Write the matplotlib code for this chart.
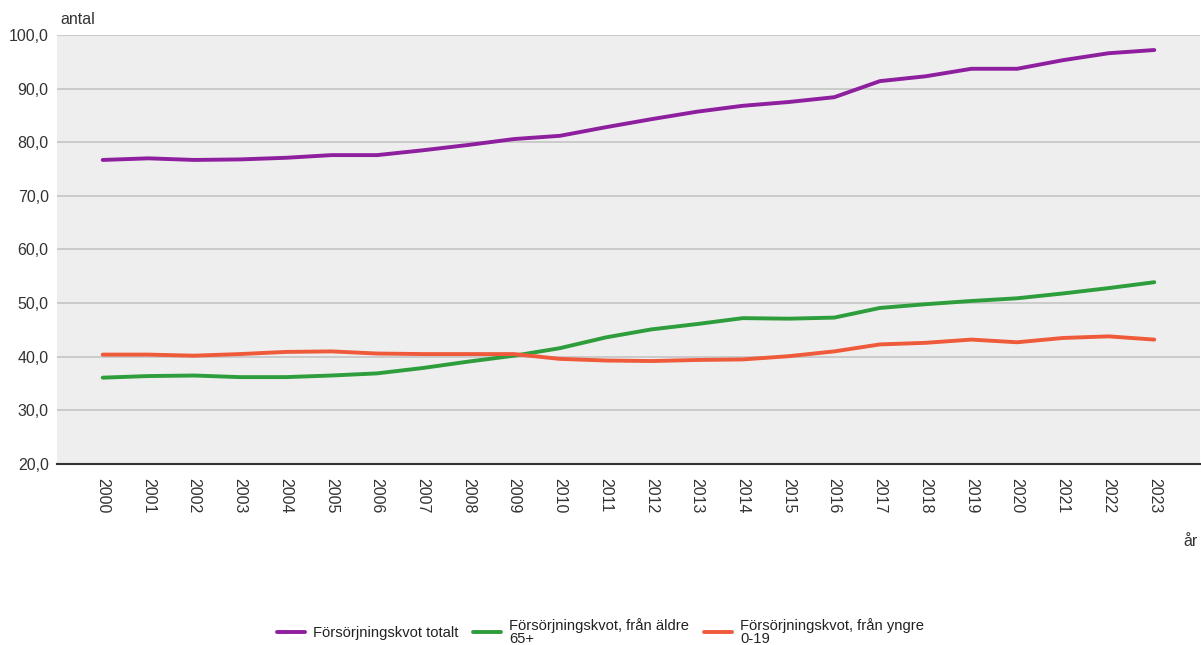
import matplotlib
matplotlib.use("Agg")
import matplotlib.pyplot as plt

years = list(range(2000, 2024))
totalt = [76.7, 77.0, 76.7, 76.8, 77.1, 77.6, 77.6, 78.5, 79.5, 80.6, 81.2, 82.8,
          84.3, 85.7, 86.8, 87.5, 88.4, 91.4, 92.3, 93.7, 93.7, 95.3, 96.6, 97.2]
aldre = [36.1, 36.4, 36.5, 36.2, 36.2, 36.5, 36.9, 37.9, 39.1, 40.2, 41.6, 43.6,
         45.1, 46.1, 47.2, 47.1, 47.3, 49.1, 49.8, 50.4, 50.9, 51.8, 52.8, 53.9]
yngre = [40.4, 40.4, 40.2, 40.5, 40.9, 41.0, 40.6, 40.5, 40.5, 40.5, 39.6, 39.3,
         39.2, 39.4, 39.5, 40.1, 41.0, 42.3, 42.6, 43.2, 42.7, 43.5, 43.8, 43.2]
labels = ["Försörjningskvot totalt",
          "Försörjningskvot, från äldre\n65+",
          "Försörjningskvot, från yngre\n0-19"]
yticks = [20, 30, 40, 50, 60, 70, 80, 90, 100]

plt.rcParams['font.family'] = ['Liberation Sans', 'DejaVu Sans']

fig = plt.figure(figsize=(12.01, 6.45), dpi=100)
ax = fig.add_axes([57/1201, 1 - 464/645, (1200-57)/1201, (464-35)/645])
ax.set_facecolor('#eeeeee')

ax.plot(years, totalt, color='#8e1f9e', lw=2.8, label=labels[0], solid_capstyle='round')
ax.plot(years, aldre, color='#2e9d3c', lw=2.8, label=labels[1], solid_capstyle='round')
ax.plot(years, yngre, color='#ef5a3a', lw=2.8, label=labels[2], solid_capstyle='round')

ax.set_xlim(1999, 2024)
ax.set_ylim(20, 100)
ax.set_yticks(yticks)
ax.set_yticklabels([f"{v:.1f}".replace('.', ',') for v in yticks], fontsize=11.5, color='#333333')
ax.set_xticks(years)
ax.set_xticklabels([str(y) for y in years], rotation=-90, fontsize=11.5, color='#333333')
ax.tick_params(axis='both', length=0, pad=6)
ax.tick_params(axis='x', pad=10)
ax.grid(axis='y', color='#c4c4c4', lw=1.2)
ax.set_axisbelow(True)
for s in ['top', 'right', 'left']:
    ax.spines[s].set_visible(False)
ax.spines['bottom'].set_color('#333333')
ax.spines['bottom'].set_linewidth(1.5)

fig.text(60/1201, 1 - 20/645, "antal", fontsize=11.5, color='#333333', va='center', ha='left')
fig.text(1190/1201, 1 - 542/645, "år", fontsize=11.5, color='#333333', va='center', ha='center')

leg = fig.legend(loc='center', bbox_to_anchor=(0.5, 1 - 632/645), ncol=3, frameon=False,
                 fontsize=10.6, handlelength=1.9, columnspacing=1.0, handletextpad=0.55)
for t in leg.get_texts():
    t.set_linespacing(0.95)
    t.set_color('#222222')

fig.savefig("out.png", dpi=100)
